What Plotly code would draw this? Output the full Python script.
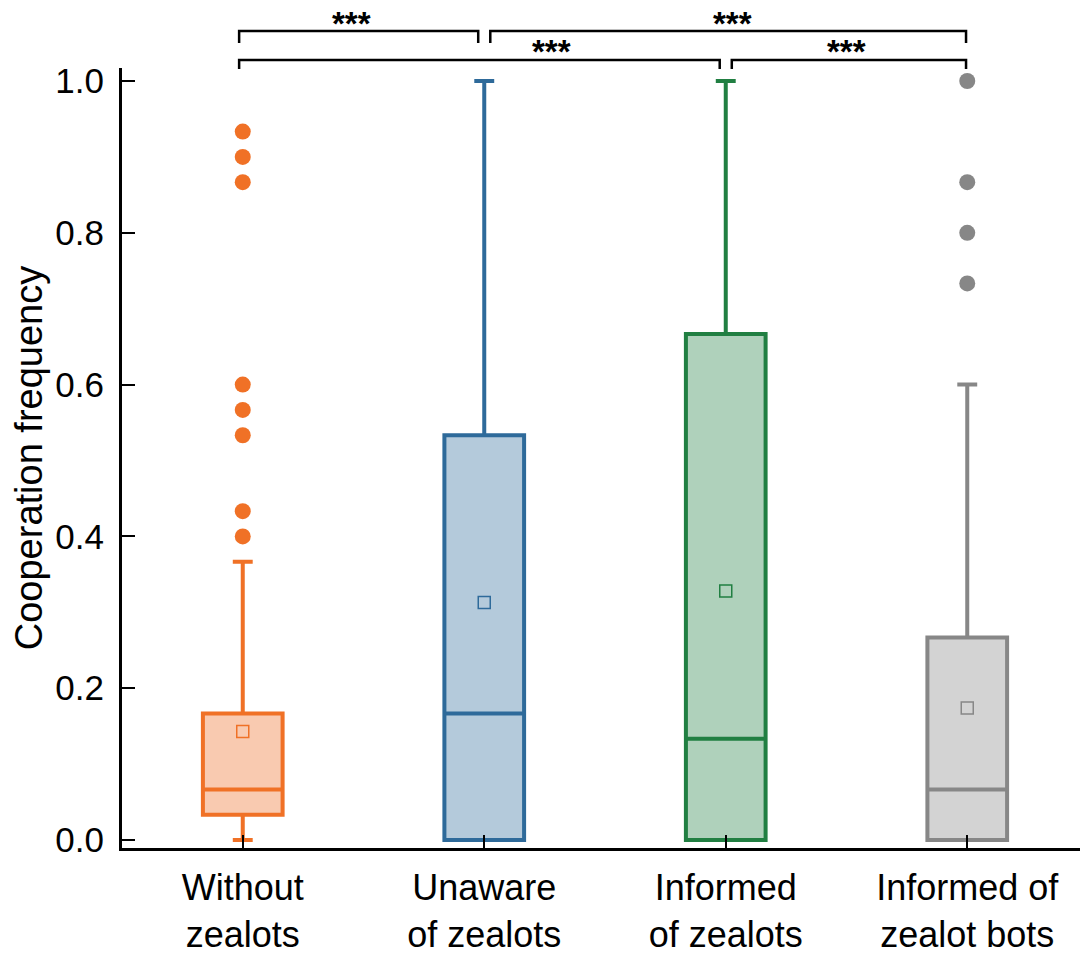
import plotly.graph_objects as go

# ---- data ----
categories = ["Without<br>zealots", "Unaware<br>of zealots", "Informed<br>of zealots", "Informed of<br>zealot bots"]
q1 = [0.0333, 0.0, 0.0, 0.0]
median = [0.0667, 0.1667, 0.1333, 0.0667]
q3 = [0.1667, 0.5333, 0.6667, 0.2667]
lowerfence = [0.0, 0.0, 0.0, 0.0]
upperfence = [0.3667, 1.0, 1.0, 0.6]
means = [0.143, 0.313, 0.328, 0.174]
outliers_without = [0.4, 0.4333, 0.5333, 0.5667, 0.6, 0.8667, 0.9, 0.9333]
outliers_unaware = []
outliers_informed = []
outliers_bots = [0.7333, 0.8, 0.8667, 1.0]
outliers = [outliers_without, outliers_unaware, outliers_informed, outliers_bots]

# significance brackets: (left category, right category, level, label x, label)
bracket_left = [0, 1, 0, 2]
bracket_right = [1, 3, 2, 3]
bracket_level = [1, 1, 0, 0]
bracket_label_x = [0.45, 2.03, 1.28, 2.5]
bracket_label = ["***", "***", "***", "***"]

y_ticks = [0.0, 0.2, 0.4, 0.6, 0.8, 1.0]
y_ticktext = ["0.0", "0.2", "0.4", "0.6", "0.8", "1.0"]

line_colors = ["#F07126", "#2E6A9A", "#217F42", "#878787"]
fill_colors = ["#F9CAB0", "#B4CADB", "#AFD1BB", "#D3D3D3"]

FONT = "Liberation Sans, Arial, sans-serif"

fig = go.Figure()
for i in range(4):
    fig.add_trace(go.Box(
        x=[i], q1=[q1[i]], median=[median[i]], q3=[q3[i]],
        lowerfence=[lowerfence[i]], upperfence=[upperfence[i]],
        width=0.33, whiskerwidth=0.25, boxpoints=False,
        line=dict(color=line_colors[i], width=4),
        fillcolor=fill_colors[i], showlegend=False, hoverinfo="skip",
    ))
    if outliers[i]:
        fig.add_trace(go.Scatter(
            x=[i] * len(outliers[i]), y=outliers[i], mode="markers",
            marker=dict(symbol="circle", size=16, color=line_colors[i], line=dict(width=0)),
            showlegend=False, hoverinfo="skip",
        ))
    fig.add_trace(go.Scatter(
        x=[i], y=[means[i]], mode="markers",
        marker=dict(symbol="square-open", size=12, color=line_colors[i], line=dict(width=1.5)),
        showlegend=False, hoverinfo="skip",
    ))

# bracket geometry in paper coordinates
X0, X1 = -0.5, 3.5
def xp(v):
    return (v - X0) / (X1 - X0)

level_top = {0: 1.0103, 1: 1.0474}
level_drop = {0: 0.0115, 1: 0.0154}
label_y = {0: 1.0215, 1: 1.0570}
inset = 0.025
for l, r, lev, lx, lab in zip(bracket_left, bracket_right, bracket_level, bracket_label_x, bracket_label):
    a = l + (inset if l > 0 else -0.015)
    b = r - (inset if r < 3 else 0.005)
    top = level_top[lev]
    bot = top - level_drop[lev]
    fig.add_shape(type="path", xref="paper", yref="paper",
                  path=f"M {xp(a)},{bot} L {xp(a)},{top} L {xp(b)},{top} L {xp(b)},{bot}",
                  line=dict(color="black", width=2.5))
    fig.add_annotation(x=xp(lx), y=label_y[lev], xref="paper", yref="paper",
                       text="<b>" + lab + "</b>", showarrow=False, xanchor="center", yanchor="middle",
                       borderpad=0,
                       font=dict(family=FONT, size=33, color="black"))

fig.update_layout(
    width=1088, height=955,
    margin=dict(l=114, r=8, t=60, b=115),
    plot_bgcolor="white", paper_bgcolor="white",
    boxmode="overlay",
    font=dict(family=FONT, color="black"),
    xaxis=dict(
        range=[X0, X1], tickvals=[0, 1, 2, 3], ticktext=categories,
        ticks="inside", ticklen=13, tickwidth=2, tickcolor="black",
        showline=True, linecolor="black", linewidth=3,
        showgrid=False, zeroline=False, automargin=False,
        ticklabelstandoff=6,
        tickfont=dict(family=FONT, size=36, color="black"),
    ),
    yaxis=dict(
        range=[-0.0105, 1.0171], tickvals=y_ticks, ticktext=y_ticktext,
        ticks="inside", ticklen=13, tickwidth=2, tickcolor="black",
        showline=True, linecolor="black", linewidth=3,
        showgrid=False, zeroline=False, automargin=False,
        tickfont=dict(family=FONT, size=35, color="black"),
        ticklabelstandoff=8,
        title=dict(text="Cooperation frequency", standoff=5,
                   font=dict(family=FONT, size=38, color="black")),
    ),
)

fig.write_html("out.html")
